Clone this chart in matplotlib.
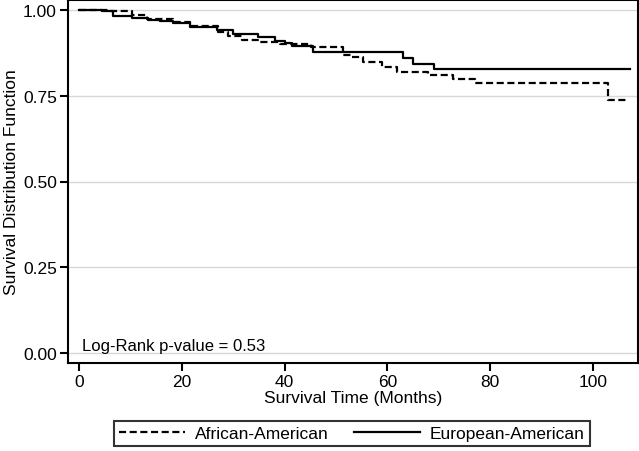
import numpy as np
import matplotlib.pyplot as plt

plt.rcParams['font.family'] = ['Liberation Sans', 'DejaVu Sans']

# Kaplan-Meier steps (months, survival)
aa_time = [0, 5.6, 10.3, 13.2, 18.3, 21.6, 27.0, 29.0, 31.7, 35.2, 39.1, 45.1,
           51.4, 53.1, 55.3, 59.0, 61.9, 67.9, 72.8, 77.0, 102.9, 106.8]
aa_surv = [1.0, 0.996, 0.985, 0.974, 0.965, 0.953, 0.936, 0.925, 0.913, 0.906, 0.901, 0.891,
           0.869, 0.862, 0.847, 0.835, 0.819, 0.810, 0.798, 0.786, 0.738, 0.738]

ea_time = [0, 4.4, 6.6, 10.3, 13.4, 15.8, 18.3, 21.6, 26.8, 30.0, 34.8, 38.1,
           40.1, 41.4, 45.5, 63.0, 65.0, 69.1, 107.2]
ea_surv = [1.0, 0.996, 0.983, 0.977, 0.972, 0.967, 0.961, 0.949, 0.942, 0.930, 0.920, 0.910,
           0.904, 0.896, 0.876, 0.860, 0.842, 0.827, 0.827]

xticks = [0, 20, 40, 60, 80, 100]
yticks = [0.00, 0.25, 0.50, 0.75, 1.00]
pval_text = 'Log-Rank p-value = 0.53'

fs = 12.5
fig = plt.figure(figsize=(6.39, 4.52), dpi=100)
ax = fig.add_axes([68/639, 1-364/452, 570/639, 363/452])

ax.step(aa_time, aa_surv, where='post', color='black', lw=1.6,
        linestyle=(0, (3.2, 1.6)), label='African-American')
ax.step(ea_time, ea_surv, where='post', color='black', lw=1.6,
        label='European-American')

ax.set_xlim(-2.14, 108.75)
ax.set_ylim(-0.029, 1.029)
ax.set_xticks(xticks)
ax.set_yticks(yticks)
ax.set_yticklabels(['%.2f' % v for v in yticks])
ax.yaxis.grid(True, color='#d8d8d8', lw=1)
ax.set_axisbelow(True)
for s in ax.spines.values():
    s.set_linewidth(1.5)
    s.set_color('black')
ax.tick_params(direction='out', length=6, width=1.5, labelsize=fs, colors='black', pad=2)

ax.set_xlabel('Survival Time (Months)', fontsize=fs, labelpad=1)
ax.set_ylabel('Survival Distribution Function', fontsize=fs, labelpad=3)
ax.text(0.6, 0.0, pval_text, fontsize=12, va='bottom', ha='left')

leg = fig.legend(loc='center', bbox_to_anchor=(352/639, 1-434.5/452), ncol=2,
                 fontsize=fs, handlelength=3.8, columnspacing=1.5, handletextpad=0.55,
                 fancybox=False, frameon=True, borderpad=0.3)
leg.get_frame().set_edgecolor('black')
leg.get_frame().set_linewidth(1.5)

plt.savefig('out.png', dpi=100)
